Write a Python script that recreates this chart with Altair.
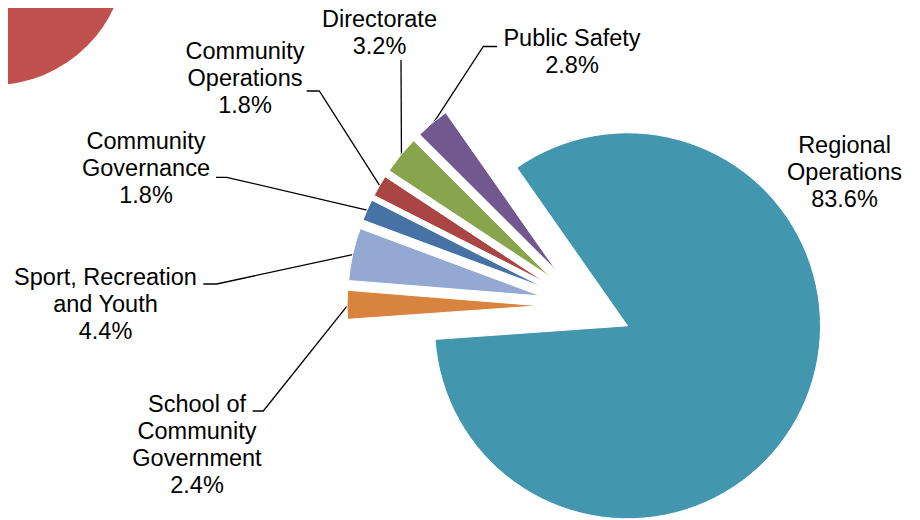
import math
import numpy as np
import pandas as pd
import altair as alt

# ---------------- data ----------------
names = ["Regional Operations", "School of Community Government",
         "Sport, Recreation and Youth", "Community Governance",
         "Community Operations", "Directorate", "Public Safety"]
label_text = ["Regional\nOperations", "School of\nCommunity\nGovernment",
              "Sport, Recreation\nand Youth", "Community\nGovernance",
              "Community\nOperations", "Directorate", "Public Safety"]
shares = [83.6, 2.4, 4.4, 1.8, 1.8, 3.2, 2.8]
colors = ["#4297AE", "#D9843E", "#94A9D1", "#4672A6", "#A94644", "#88A54E", "#71588F"]

# ---------------- layout (page pixels) ----------------
PAGE = 8
CX, CY = 586 - PAGE, 306 - PAGE      # pie centre before explosion
EXPLODE = 46                          # explosion distance
R = 193                               # slice radius
A0 = math.radians(325)                # start angle of first slice

# label anchors: centre x, first baseline y
label_x = [844.5, 197, 105.5, 146, 245, 379.5, 572]
label_y = [153.3, 411.7, 285, 149.3, 59.3, 26.7, 45.7]
# leader lines: elbow and end points (None for no leader)
leader_elbow = [None, (263.3, 411), (216.7, 284), (226.7, 177.3), (319.3, 91), (401, 60), (483.3, 46.5)]
leader_end = [None, (252.7, 411), (203.3, 284), (216, 177.3), (306.7, 91), (401, 60), (497, 46.5)]

df = pd.DataFrame({"name": names, "share": shares, "order": range(len(names))})

theta_scale = alt.Scale(domain=[0, 100], range=[A0, A0 + 2 * math.pi])

mid_expr = f"{A0} + (datum.start + datum.cum) / 200 * 2 * PI"
slices = (
    alt.Chart(df)
    .transform_window(cum="sum(share)", sort=[alt.SortField("order")], frame=[None, 0])
    .transform_calculate(start="datum.cum - datum.share")
    .transform_calculate(mid=mid_expr)
    .transform_calculate(
        cx=f"{CX} + {EXPLODE} * sin(datum.mid)",
        cy=f"{CY} - {EXPLODE} * cos(datum.mid)",
    )
    .mark_arc(radius=R, stroke="white", strokeWidth=1)
    .encode(
        theta=alt.Theta("start:Q", scale=theta_scale),
        theta2="cum:Q",
        x=alt.X("cx:Q", scale=None),
        y=alt.Y("cy:Q", scale=None),
        color=alt.Color("name:N", scale=alt.Scale(domain=names, range=colors), legend=None),
    )
)

# leader lines: from slice outer edge to label
cum = np.cumsum(shares)
start = cum - np.array(shares)
mid = A0 + (start + cum) / 200 * 2 * math.pi
rows = []
for i, n in enumerate(names):
    if leader_elbow[i] is None:
        continue
    px = CX + (R + EXPLODE - 1) * math.sin(mid[i])
    py = CY - (R + EXPLODE - 1) * math.cos(mid[i])
    pts = [(px, py), (leader_elbow[i][0] - PAGE, leader_elbow[i][1] - PAGE),
           (leader_end[i][0] - PAGE, leader_end[i][1] - PAGE)]
    for k, (x, y) in enumerate(pts):
        rows.append({"name": n, "k": k, "x": x, "y": y})
lead_df = pd.DataFrame(rows)

leaders = (
    alt.Chart(lead_df)
    .mark_line(color="black", strokeWidth=1.3)
    .encode(
        x=alt.X("x:Q", scale=None),
        y=alt.Y("y:Q", scale=None),
        detail="name:N",
        order="k:Q",
    )
)

lab_df = pd.DataFrame({
    "name": names,
    "label": [f"{t}\n{s:.1f}%" for t, s in zip(label_text, shares)],
    "lx": [v - PAGE for v in label_x],
    "ly": [v - PAGE for v in label_y],
})
labels = (
    alt.Chart(lab_df)
    .mark_text(align="center", baseline="alphabetic", lineBreak="\n",
               fontSize=23.5, font="Liberation Sans", lineHeight=27, color="black")
    .encode(x=alt.X("lx:Q", scale=None), y=alt.Y("ly:Q", scale=None), text="label:N")
)

# fragment of a neighbouring red circle at the top-left corner
corner = (
    alt.Chart(pd.DataFrame({"k": [0]}))
    .mark_arc(theta=2 * math.pi, radius=133, color="#C0504D")
    .encode(x=alt.value(-7 - PAGE), y=alt.value(-48 - PAGE))
)

chart = (
    alt.layer(corner, leaders, slices, labels)
    .properties(width=904, height=512, padding=0, autosize="none")
    .configure_view(strokeOpacity=0)
)

chart.save("out.html", embed_options={"renderer": "svg", "actions": False})
